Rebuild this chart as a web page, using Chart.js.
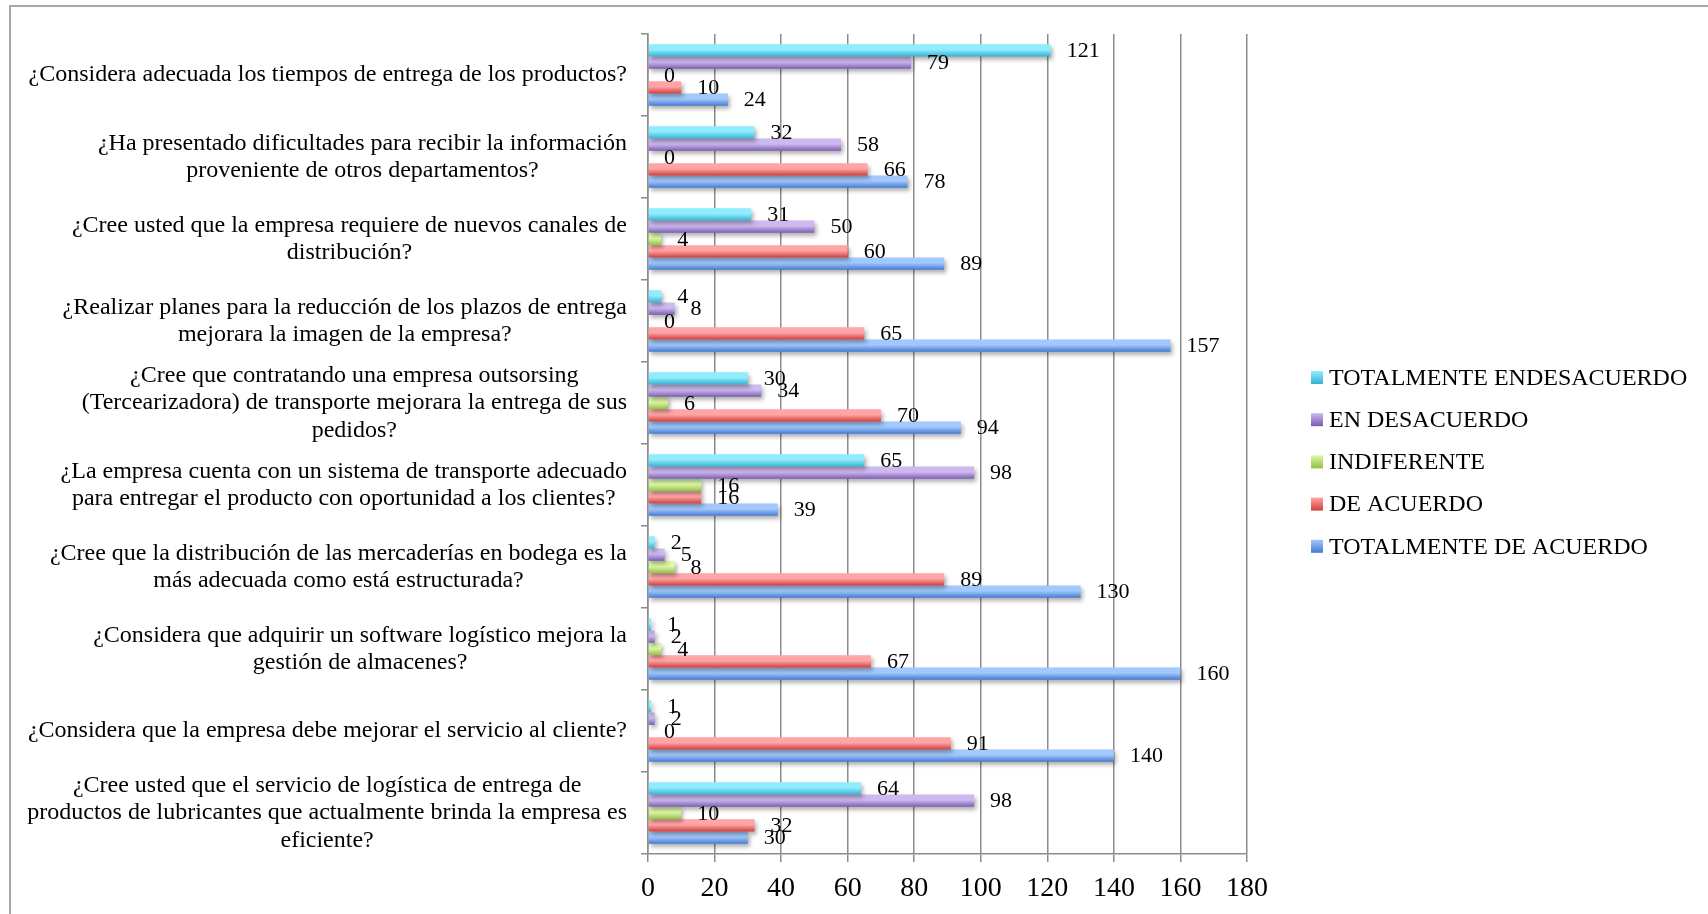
<!DOCTYPE html>
<html lang="es">
<head>
<meta charset="utf-8">
<title>Encuesta de logística y distribución</title>
<script src="https://cdn.jsdelivr.net/npm/chart.js@4.4.1/dist/chart.umd.min.js"></script>
<style>
  html, body { margin: 0; padding: 0; background: #ffffff; }
  #wrap { width: 1708px; height: 914px; position: relative; }
</style>
</head>
<body>
<div id="wrap"><canvas id="chart" width="1708" height="914"></canvas></div>
<script>
// Survey questions (one entry per question, lines as they wrap on the axis)
const questions = [
  ['¿Considera adecuada los tiempos de entrega de los productos?'],
  ['¿Ha presentado dificultades para recibir la información', 'proveniente de otros departamentos?'],
  ['¿Cree usted que la empresa requiere de nuevos canales de', 'distribución?'],
  ['¿Realizar planes para la reducción de los plazos de entrega', 'mejorara la imagen de la empresa?'],
  ['¿Cree que contratando una empresa outsorsing', '(Tercearizadora) de transporte mejorara la entrega de sus', 'pedidos?'],
  ['¿La empresa cuenta con un sistema de transporte adecuado', 'para entregar el producto con oportunidad a los clientes?'],
  ['¿Cree que la distribución de las mercaderías en bodega es la', 'más adecuada como está estructurada?'],
  ['¿Considera que adquirir un software logístico mejora la', 'gestión de almacenes?'],
  ['¿Considera que la empresa debe mejorar el servicio al cliente?'],
  ['¿Cree usted que el servicio de logística de entrega de', 'productos de lubricantes que actualmente brinda la empresa es', 'eficiente?']
];

// Answer options
const seriesNames = ['TOTALMENTE ENDESACUERDO', 'EN DESACUERDO', 'INDIFERENTE', 'DE ACUERDO', 'TOTALMENTE DE ACUERDO'];

// Responses per answer option, in question order
const totalmenteEnDesacuerdo = [121, 32, 31, 4, 30, 65, 2, 1, 1, 64];
const enDesacuerdo           = [79, 58, 50, 8, 34, 98, 5, 2, 2, 98];
const indiferente            = [0, 0, 4, 0, 6, 16, 8, 4, 0, 10];
const deAcuerdo              = [10, 66, 60, 65, 70, 16, 89, 67, 91, 32];
const totalmenteDeAcuerdo    = [24, 78, 89, 157, 94, 39, 130, 160, 140, 30];

// Horizontal axis ticks
const xTicks = [0, 20, 40, 60, 80, 100, 120, 140, 160, 180];

// Gradient stops (light top, dark bottom) for each series
const palette = [
  ['#8fedfd', '#37b0d2'],
  ['#cdb8ef', '#7a5bb0'],
  ['#ddf8a8', '#92be44'],
  ['#ffa5a5', '#d23f3e'],
  ['#a2c8fd', '#437ad0']
];

const FONT = "'Liberation Serif', 'Times New Roman', serif";
const GRID = '#8c8c8c';
const BAR_SHARE = 0.75;

// Vertical gradient fitted to each bar's own band on the category axis
function barFill(colors) {
  return (ctx) => {
    const chart = ctx.chart;
    const ys = chart.scales && chart.scales.y;
    if (ctx.type !== 'data' || !ys || !ys.height) return colors[1];
    const n = chart.data.labels.length;
    const nSets = chart.data.datasets.length;
    const band = ys.height / n;
    const thick = band * BAR_SHARE / nSets;
    const top = ys.getPixelForValue(ctx.dataIndex) - band * BAR_SHARE / 2 + ctx.datasetIndex * thick;
    const g = chart.ctx.createLinearGradient(0, top, 0, top + thick);
    g.addColorStop(0, colors[0]);
    g.addColorStop(0.45, colors[0]);
    g.addColorStop(1, colors[1]);
    return g;
  };
}

const seriesValues = [totalmenteEnDesacuerdo, enDesacuerdo, indiferente, deAcuerdo, totalmenteDeAcuerdo];

const datasets = seriesNames.map((name, i) => ({
  label: name,
  data: seriesValues[i],
  backgroundColor: barFill(palette[i]),
  borderWidth: 0,
  categoryPercentage: BAR_SHARE,
  barPercentage: 1.0
}));

// Frame around the figure and white page
const framePlugin = {
  id: 'frame',
  beforeDraw(chart) {
    const c = chart.ctx;
    c.save();
    c.fillStyle = '#ffffff';
    c.fillRect(0, 0, chart.width, chart.height);
    c.strokeStyle = '#8c8c8c';
    c.lineWidth = 1.5;
    c.beginPath();
    c.moveTo(10, chart.height + 2);
    c.lineTo(10, 6);
    c.lineTo(chart.width + 2, 6);
    c.stroke();
    c.restore();
  }
};

// Soft drop shadow under the bars
const shadowPlugin = {
  id: 'barShadow',
  beforeDatasetsDraw(chart) {
    const c = chart.ctx;
    c.save();
    c.shadowColor = 'rgba(0,0,0,0.32)';
    c.shadowBlur = 4;
    c.shadowOffsetX = 2;
    c.shadowOffsetY = 3;
  },
  afterDatasetsDraw(chart) {
    chart.ctx.restore();
  }
};

// Value printed just past the end of each bar
const valueLabelPlugin = {
  id: 'valueLabels',
  afterDatasetsDraw(chart) {
    const c = chart.ctx;
    c.save();
    c.font = '22px ' + FONT;
    c.fillStyle = '#000000';
    c.textAlign = 'left';
    c.textBaseline = 'middle';
    chart.data.datasets.forEach((ds, di) => {
      const meta = chart.getDatasetMeta(di);
      meta.data.forEach((el, i) => {
        c.fillText(String(ds.data[i]), el.x + 16, el.y + 1);
      });
    });
    c.restore();
  }
};

// Question text: block right-aligned to the axis, lines centred within the block
const questionLabelPlugin = {
  id: 'questionLabels',
  afterDraw(chart) {
    const ys = chart.scales.y;
    const c = chart.ctx;
    const lineH = 27.3;
    c.save();
    c.font = '24px ' + FONT;
    c.fillStyle = '#000000';
    c.textAlign = 'center';
    c.textBaseline = 'middle';
    const right = chart.chartArea.left - 21;
    chart.data.labels.forEach((lines, i) => {
      const yc = ys.getPixelForValue(i);
      const widest = Math.max(...lines.map(l => c.measureText(l).width));
      const xc = right - widest / 2;
      lines.forEach((l, j) => {
        c.fillText(l, xc, yc + (j - (lines.length - 1) / 2) * lineH);
      });
    });
    c.restore();
  }
};

// Series key at the right of the plot
const keyPlugin = {
  id: 'seriesKey',
  afterDraw(chart) {
    const c = chart.ctx;
    const x0 = chart.chartArea.right + 64;
    const y0 = 377.5;
    const step = 42.2;
    c.save();
    c.font = '24px ' + FONT;
    c.textAlign = 'left';
    c.textBaseline = 'middle';
    chart.data.datasets.forEach((ds, i) => {
      const yc = y0 + i * step;
      const g = c.createLinearGradient(0, yc - 6.5, 0, yc + 6.5);
      g.addColorStop(0, palette[i][0]);
      g.addColorStop(1, palette[i][1]);
      c.fillStyle = g;
      c.fillRect(x0, yc - 6.5, 12, 13);
      c.fillStyle = '#000000';
      c.fillText(ds.label, x0 + 18, yc + 1);
    });
    c.restore();
  }
};

new Chart(document.getElementById('chart'), {
  type: 'bar',
  data: { labels: questions, datasets },
  plugins: [framePlugin, shadowPlugin, valueLabelPlugin, questionLabelPlugin, keyPlugin],
  options: {
    indexAxis: 'y',
    responsive: false,
    devicePixelRatio: 1,
    animation: false,
    events: [],
    layout: { padding: { top: 34, right: 461, bottom: 0, left: 0 } },
    plugins: {
      legend: { display: false },
      tooltip: { enabled: false }
    },
    scales: {
      x: {
        type: 'linear',
        min: xTicks[0],
        max: xTicks[xTicks.length - 1],
        afterBuildTicks(scale) { scale.ticks = xTicks.map(v => ({ value: v })); },
        afterFit(scale) { scale.height = 60; },
        grid: {
          color: GRID,
          lineWidth: 1.5,
          drawTicks: true,
          tickLength: 8,
          tickColor: GRID
        },
        border: { display: true, color: GRID, width: 1.5 },
        ticks: {
          color: '#000000',
          font: { family: FONT, size: 28 },
          padding: 10,
          maxRotation: 0
        }
      },
      y: {
        type: 'category',
        afterFit(scale) { scale.width = 648; },
        grid: {
          offset: true,
          drawOnChartArea: false,
          drawTicks: true,
          tickLength: 7,
          color: GRID,
          lineWidth: 1.5
        },
        border: { display: true, color: GRID, width: 1.5 },
        ticks: { display: false }
      }
    }
  }
});
</script>
</body>
</html>
